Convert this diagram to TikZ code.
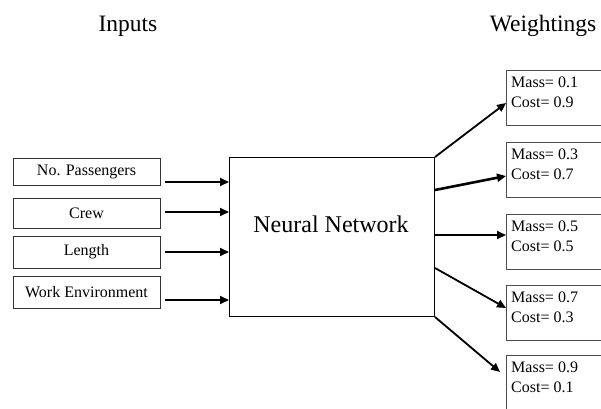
\documentclass[tikz,border=0pt]{standalone}
\usepackage{fontspec}
\setmainfont{Liberation Serif}
\usetikzlibrary{arrows.meta}

\tikzset{
  inbox/.style={draw=black!80, line width=1pt, minimum width=147pt, inner sep=0pt,
    font=\fontsize{16}{20}\selectfont},
  outbox/.style={draw=black!70, line width=1pt, anchor=north west,
    minimum width=100pt, minimum height=55pt, inner sep=0pt},
  wtext/.style={anchor=north west, align=left, inner sep=0pt,
    font=\fontsize{16}{20}\selectfont},
  title/.style={anchor=base, inner sep=0pt, font=\fontsize{23.5}{28}\selectfont},
  arr/.style={line width=1.8pt, -{Triangle[length=9pt,width=8pt]}},
}

\begin{document}
\begin{tikzpicture}[x=1pt,y=-1pt]

		\useasboundingbox (0,0) rectangle (601,408);
		\clip (0,0) rectangle (601,408);

		\node[title] (inputs) at (128,31) {Inputs};
		\node[title] (weights) at (543,31) {Weightings};

		\node[draw, line width=1pt, anchor=north west, minimum width=205pt, minimum height=159pt] (nn) at (229,157) {};
		\node[title, font=\fontsize{24}{28}\selectfont] (nnlabel) at (331,232) {Neural Network};

		\foreach \name/\y/\h/\txt in {in1/171.5/27/No. Passengers, in2/213.3/30/Crew, in3/252/32/Length, in4/292/32/Work Environment}
		\node[inbox, minimum height=\h pt] (\name) at (86.5,\y) {\txt};

		\foreach \name/\y in {in1/182, in2/212, in3/252, in4/300} {
			\coordinate (\name-a) at (165,\y);
			\draw[arr] (\name-a) -- (\name-a -| nn.west);
		}

		\foreach \name/\y/\m/\c in {w1/70/0.1/0.9, w2/142/0.3/0.7, w3/214/0.5/0.5, w4/285/0.7/0.3, w5/355/0.9/0.1} {
			\node[outbox] (\name) at (506,\y) {};
			\node[wtext] (\name-t) at ([xshift=5pt,yshift=-7pt]\name.north west) {Mass= \m\\Cost= \c};
		}

		\draw[arr] (nn.north east) -- ([yshift=-33pt]w1.north west);
		\draw[arr, line width=2.6pt] ([yshift=-33pt]nn.north east) -- ([yshift=-34pt]w2.north west);
		\draw[arr] ([yshift=-78pt]nn.north east) -- ([yshift=-21pt]w3.north west);
		\draw[arr] ([yshift=-111pt]nn.north east) -- ([yshift=-23pt]w4.north west);
		\coordinate (w5-tip) at ([xshift=-6pt,yshift=-17pt]w5.north west);
		\draw[arr] (nn.south east) -- (w5-tip);

	\end{tikzpicture}
\end{document}
